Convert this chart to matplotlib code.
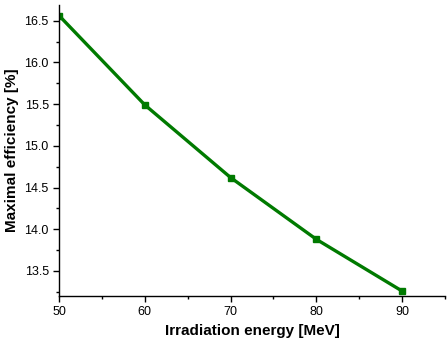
import numpy as np
import matplotlib.pyplot as plt
from matplotlib.ticker import MultipleLocator

plt.rcParams['font.family'] = ['Liberation Sans', 'DejaVu Sans']

energy = [50, 60, 70, 80, 90]
efficiency = [16.56, 15.49, 14.62, 13.88, 13.26]

fig = plt.figure(figsize=(4.48, 3.45), dpi=100)
ax = fig.add_axes([0.132, 0.142, 0.861, 0.844])

ax.plot(energy, efficiency, color='#007a00', linewidth=2.4,
        marker='s', markersize=5)

ax.set_xlim(50, 95)
ax.set_ylim(13.2, 16.69)
ax.xaxis.set_major_locator(MultipleLocator(10))
ax.xaxis.set_minor_locator(MultipleLocator(5))
ax.yaxis.set_major_locator(MultipleLocator(0.5))
ax.yaxis.set_minor_locator(MultipleLocator(0.25))
ax.yaxis.set_major_formatter(plt.FormatStrFormatter('%.1f'))

ax.spines['top'].set_visible(False)
ax.spines['right'].set_visible(False)
for s in ('left', 'bottom'):
    ax.spines[s].set_linewidth(1.0)

ax.tick_params(which='major', direction='out', length=4, width=1, labelsize=9)
ax.tick_params(which='minor', direction='out', length=2.5, width=1)

ax.set_xlabel('Irradiation energy [MeV]', fontsize=11, fontweight='bold')
ax.set_ylabel('Maximal efficiency [%]', fontsize=11, fontweight='bold')

plt.savefig('out.png', dpi=100)
